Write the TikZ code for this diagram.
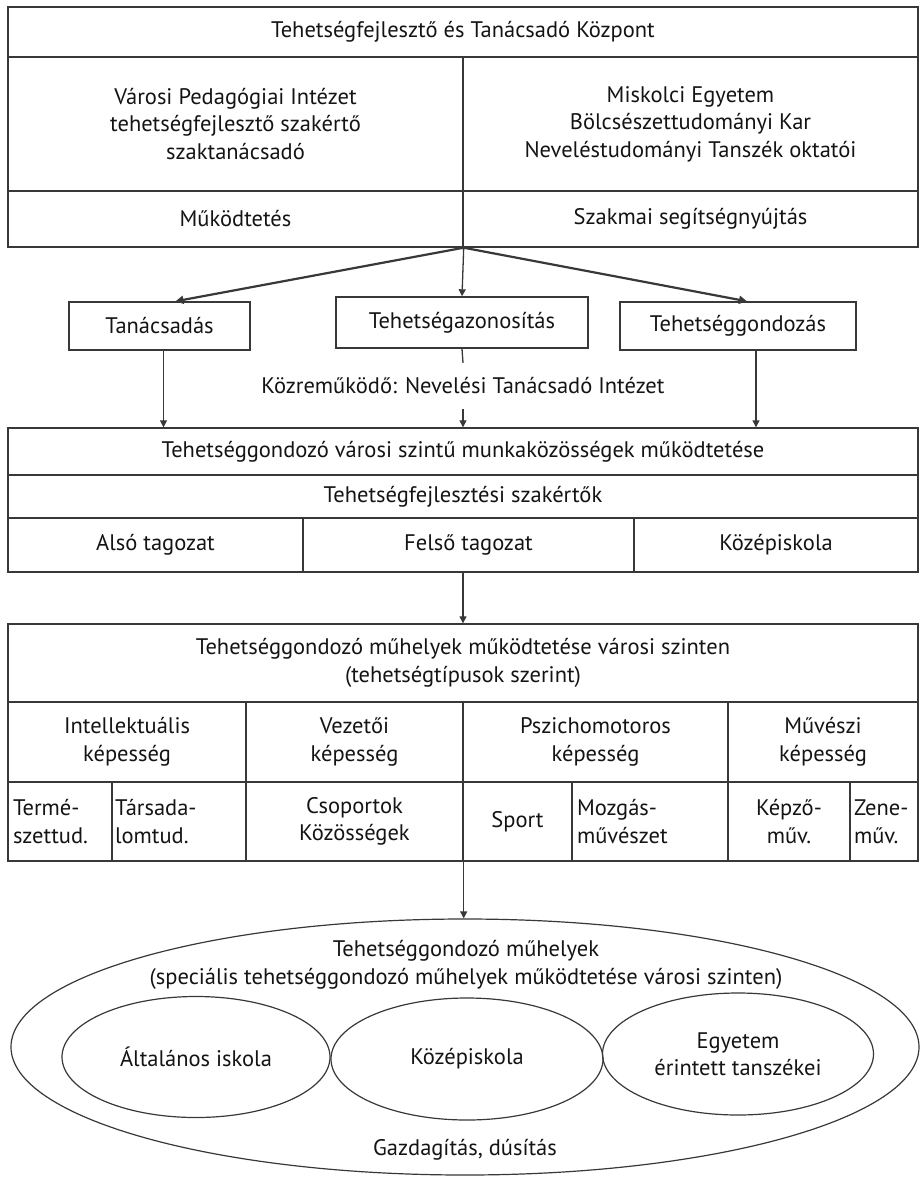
\documentclass[tikz,border=0pt]{standalone}
\usepackage{fontspec}
\setmainfont{PT Sans}
\usetikzlibrary{arrows.meta,shapes.geometric,calc}
\definecolor{linec}{gray}{0.22}
\definecolor{txt}{gray}{0.08}
\newcommand\bcell[7][]{\node[box,minimum width={(#5)-(#3)},minimum height={(#6)-(#4)},#1] (#2) at ({((#3)+(#5))/2},{((#4)+(#6))/2}) {#7};}
\begin{document}
\begin{tikzpicture}[x=1pt,y=-1pt,
  every node/.style={font=\fontsize{22.5}{27.5}\selectfont,text=txt},
  box/.style={draw=linec,line width=1.4pt,rectangle,inner sep=0pt,align=center},
  lbox/.style={box,align=left},
  oval/.style={draw=linec,line width=1.2pt,ellipse,inner sep=0pt,align=center},
  arr/.style={draw=linec,line width=1.3pt,-{Triangle[width=7pt,length=7pt]}},
  darr/.style={draw=linec,line width=2.2pt,-{Triangle[width=8pt,length=8pt]}},
  plain/.style={inner sep=0pt,align=center}]
\useasboundingbox (0,0) rectangle (923,1179);
% top block
\bcell{top}{8}{7}{918}{57}{Tehetségfejlesztő és Tanácsadó Központ}
\bcell{vpi}{8}{57}{463}{191}{Városi Pedagógiai Intézet\\tehetségfejlesztő szakértő\\szaktanácsadó}
\bcell{me}{463}{57}{918}{191}{Miskolci Egyetem\\Bölcsészettudományi Kar\\Neveléstudományi Tanszék oktatói}
\bcell{mukod}{8}{191}{463}{247}{Működtetés}
\bcell{szakm}{463}{191}{918}{247}{Szakmai segítségnyújtás}
\coordinate (fork) at (mukod.south east);
% second level boxes
\bcell{tan}{69}{302}{250}{350}{Tanácsadás}
\bcell{azon}{336}{297}{588}{348}{Tehetségazonosítás}
\bcell{gond}{620}{302}{856}{350}{Tehetséggondozás}
% middle block
\bcell{munk}{8}{428}{918}{475}{Tehetséggondozó városi szintű munkaközösségek működtetése}
\bcell{szak}{8}{475}{918}{518}{Tehetségfejlesztési szakértők}
\bcell{also}{8}{518}{303}{572}{Alsó tagozat}
\bcell{kozep}{634}{518}{918}{572}{Középiskola}
\bcell[line width=2pt]{felso}{303}{518}{634}{572}{Felső tagozat}
\node[plain,minimum height=46pt] (lab) at (463,386) {Közreműködő: Nevelési Tanácsadó Intézet};
% table
\bcell{muh}{8}{624}{918}{702}{Tehetséggondozó műhelyek működtetése városi szinten\\(tehetségtípusok szerint)}
\bcell{int}{8}{702}{246}{782}{Intellektuális\\képesség}
\bcell{vez}{246}{702}{463}{782}{Vezetői\\képesség}
\bcell{psz}{463}{702}{728}{782}{Pszichomotoros\\képesség}
\bcell{muv}{728}{702}{918}{782}{Művészi\\képesség}
\bcell[lbox,text width=94pt]{term}{8}{782}{112}{861}{Termé-\\szettud.}
\bcell[lbox,text width=128pt]{tars}{112}{782}{246}{861}{Társada-\\lomtud.}
\bcell{csop}{246}{782}{463}{861}{Csoportok\\Közösségek}
\bcell{sport}{463}{782}{572}{861}{Sport}
\bcell[lbox,text width=146pt]{mozg}{572}{782}{728}{861}{Mozgás-\\művészet}
\bcell{kepz}{728}{782}{850}{861}{Képző-\\műv.}
\bcell[lbox,text width=60pt]{zene}{850}{782}{918}{861}{Zene-\\műv.}
% ellipses
\node[oval,minimum width=908pt,minimum height=256pt] (ell) at (465,1047) {};
\node[plain] (ellt) at (466,965) {Tehetséggondozó műhelyek\\(speciális tehetséggondozó műhelyek működtetése városi szinten)};
\node[oval,minimum width=268pt,minimum height=121pt] (e1) at (196,1057) {Általános iskola};
\node[oval,minimum width=272pt,minimum height=122pt] (e2) at (467,1059) {Középiskola};
\node[oval,minimum width=271pt,minimum height=122pt] (e3) at (738,1054) {Egyetem\\érintett tanszékei};
\node[plain] (gazd) at (465,1150) {Gazdagítás, dúsítás};
% connectors
\draw[darr] (fork) -- ([xshift=16pt]tan.north);
\draw[darr] (fork) -- ([xshift=9pt]gond.north);
\draw[arr] (fork) -- (azon.north);
\draw[arr] ([xshift=4pt]tan.south) -- ([xshift=4pt]tan.south |- munk.north);
\draw[arr] ([xshift=18pt]gond.south) -- ([xshift=18pt]gond.south |- munk.north);
\draw[linec,line width=1.3pt] (azon.south) -- (lab.north);
\draw[arr] (lab.south) -- (munk.north);
\draw[arr] (muh.north |- felso.south) -- (muh.north);
\draw[arr] (csop.south east) -- (csop.south east |- ell.north);
\end{tikzpicture}
\end{document}
